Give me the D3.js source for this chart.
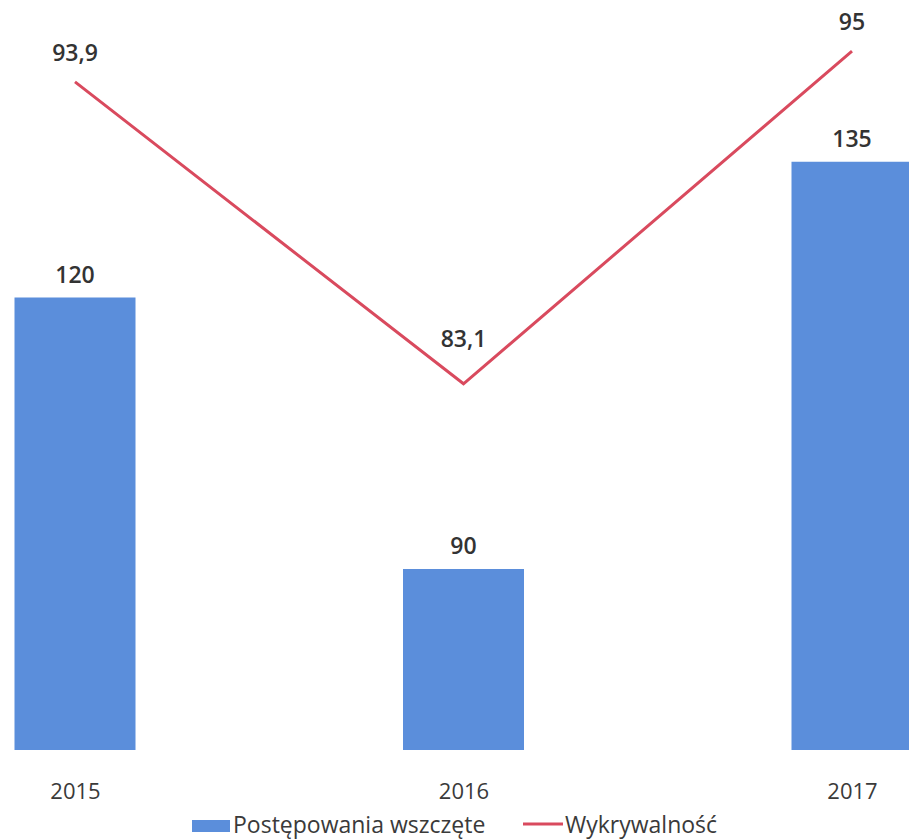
<!DOCTYPE html>
<html>
  <head>
    <meta charset="UTF-8">
    <style>
      body {
        margin: 0;
        background: white;
        font-family: "Open Sans", Helvetica, Arial, sans-serif;
      }
    </style>
    <script type="text/javascript" src="https://cdn.jsdelivr.net/npm/d3@7"></script>
  </head>
  <body>
    <svg id="chart"></svg>

    <script type="text/javascript">
      let years = ['2015', '2016', '2017'];
      let cases = [120, 90, 135];          // Postępowania wszczęte
      let detection = [93.9, 83.1, 95];    // Wykrywalność
      let seriesNames = ['Postępowania wszczęte', 'Wykrywalność'];

      let width = 909;
      let height = 839;
      let barColor = '#5b8edb';
      let lineColor = '#d94a5e';

      let svg = d3.select('#chart')
        .attr('width', width)
        .attr('height', height)

      let xScale = d3.scalePoint()
        .domain(years)
        .range([75, 852])

      let yBars = d3.scaleLinear()
        .domain([70, 150])
        .range([750, 26])

      let yLine = d3.scaleLinear()
        .domain([70, 95.9])
        .range([750, 26])

      let barWidth = 121;
      let fmt = v => String(v).replace('.', ',');

      // bars
      svg.append('g').selectAll('rect')
        .data(years)
        .enter()
        .append('rect')
        .attr('x', d => xScale(d) - barWidth / 2)
        .attr('y', (d, i) => yBars(cases[i]))
        .attr('width', barWidth)
        .attr('height', (d, i) => yBars.range()[0] - yBars(cases[i]))
        .attr('fill', barColor)

      svg.append('g').selectAll('text')
        .data(years)
        .enter()
        .append('text')
        .attr('x', d => xScale(d))
        .attr('y', (d, i) => yBars(cases[i]) - 15)
        .attr('text-anchor', 'middle')
        .attr('font-size', 23)
        .attr('font-weight', 600)
        .attr('fill', '#333')
        .text((d, i) => fmt(cases[i]))

      // line
      let line = d3.line()
        .x((d, i) => xScale(years[i]))
        .y(d => yLine(d))

      svg.append('path')
        .datum(detection)
        .attr('d', line)
        .attr('fill', 'none')
        .attr('stroke', lineColor)
        .attr('stroke-width', 3)

      // valley point gets its label pushed higher so it clears the line
      let isValley = i => i > 0 && i < detection.length - 1 &&
        detection[i] < detection[i - 1] && detection[i] < detection[i + 1];

      svg.append('g').selectAll('text')
        .data(detection)
        .enter()
        .append('text')
        .attr('x', (d, i) => xScale(years[i]))
        .attr('y', (d, i) => yLine(d) - (isValley(i) ? 37 : 21))
        .attr('text-anchor', 'middle')
        .attr('font-size', 23)
        .attr('font-weight', 600)
        .attr('fill', '#333')
        .text(d => fmt(d))

      // category labels
      let axis = d3.axisBottom(xScale).tickSize(0).tickPadding(0);
      let axisG = svg.append('g')
        .attr('transform', 'translate(0, 783)')
        .call(axis)
      axisG.select('.domain').remove();
      axisG.selectAll('text')
        .attr('font-size', 22)
        .attr('font-family', '"Open Sans", sans-serif')
        .attr('fill', '#3a3a3a')
        .attr('dy', '0.71em')

      // legend
      let legend = svg.append('g').attr('transform', 'translate(0, 826)')
      legend.append('rect')
        .attr('x', 192).attr('y', -6)
        .attr('width', 38).attr('height', 12)
        .attr('fill', barColor)
      legend.append('text')
        .attr('x', 233).attr('y', 7)
        .attr('font-size', 23)
        .attr('fill', '#3a3a3a')
        .text(seriesNames[0])
      legend.append('line')
        .attr('x1', 523).attr('x2', 563)
        .attr('y1', -2).attr('y2', -2)
        .attr('stroke', lineColor)
        .attr('stroke-width', 3)
      legend.append('text')
        .attr('x', 565).attr('y', 7)
        .attr('font-size', 23)
        .attr('fill', '#3a3a3a')
        .text(seriesNames[1])
    </script>
  </body>
</html>
